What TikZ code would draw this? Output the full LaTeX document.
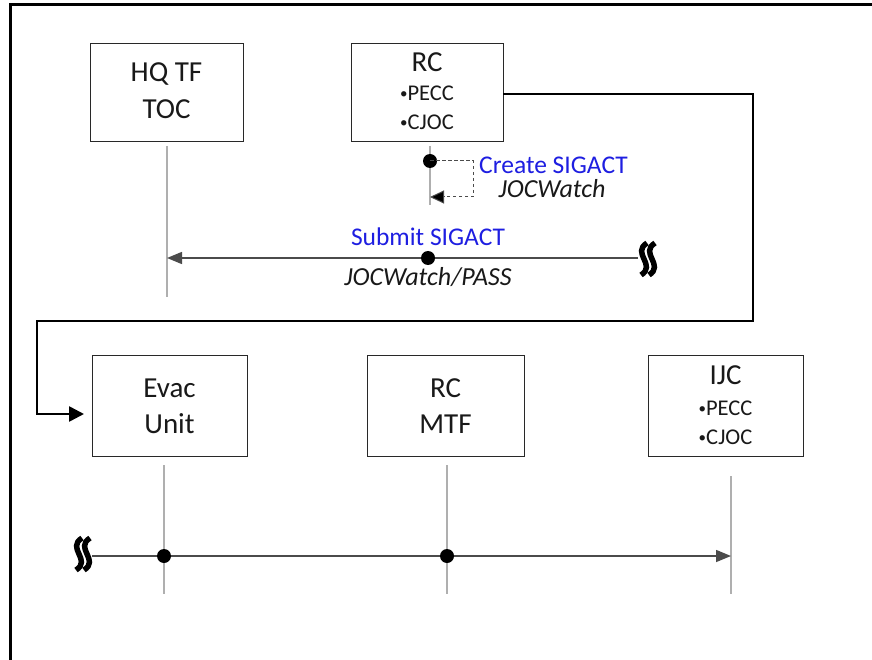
\documentclass[tikz,border=0pt]{standalone}
\usepackage{fontspec}
\setmainfont{Carlito}
\usetikzlibrary{arrows.meta,calc}
\definecolor{msgblue}{RGB}{30,30,225}
\definecolor{boxline}{RGB}{40,40,40}
\definecolor{lifegray}{RGB}{175,175,175}
\definecolor{msggray}{RGB}{75,75,75}
\definecolor{txt}{RGB}{25,25,25}
\newcommand{\smbul}{{\fontsize{15}{15}\selectfont\raisebox{1.5pt}{•}}}
\tikzset{
  box/.style={draw=boxline, line width=0.9pt, fill=white, inner sep=0pt},
  title/.style={text=txt, inner sep=0pt, font=\fontsize{29}{34}\selectfont},
  bul/.style={text=txt, inner sep=0pt, font=\fontsize{22.5}{26}\selectfont},
  blue lbl/.style={text=msgblue, inner sep=0pt, font=\fontsize{25.5}{30}\selectfont},
  ital lbl/.style={text=txt, inner sep=0pt, font=\fontsize{26}{30}\selectfont\itshape},
  life/.style={draw=lifegray, line width=1.3pt},
  msg/.style={draw=msggray, line width=1.5pt},
  msgtip/.style={-{Triangle[length=15pt,width=12pt]}},
  flow/.style={draw=black, line width=2.6pt, -{Triangle[length=15pt,width=15pt]}},
  dashmsg/.style={draw=msggray, line width=1pt, dash pattern=on 3.5pt off 2.5pt, -{Triangle[length=14pt,width=13pt,fill=black]}},
  dot/.style={circle, fill=black, inner sep=0pt, minimum size=14pt},
  squig/.pic={
    \foreach \dx in {-4,4}
      \draw[line width=5.5pt] (\dx+3,-16) .. controls (\dx-13,-6) and (\dx+13,6) .. (\dx-3,16);
  }
}
\begin{document}
\begin{tikzpicture}[x=1pt,y=-1pt]
\useasboundingbox (0,0) rectangle (872,660);
\fill[white] (0,0) rectangle (872,660);
% outer frame (right and bottom run off the page)
\draw[line width=3pt] (10,660) -- (10,5) -- (872,5);

% boxes
\node[box, minimum width=153pt, minimum height=98pt] (hq) at (166.5,92) {};
\node[title] (hqt1) at (166.5,74) {HQ TF};
\node[title] (hqt2) at (166.5,109) {TOC};

\node[box, minimum width=152pt, minimum height=98pt] (rc) at (427,92) {};
\node[title] (rct) at (427,62) {RC};
\node[bul] (rcp) at (427,93) {\smbul PECC};
\node[bul] (rcc) at (427,122) {\smbul CJOC};

\node[box, minimum width=155pt, minimum height=101pt] (evac) at (169.5,405.5) {};
\node[title] (evt1) at (169.5,388) {Evac};
\node[title] (evt2) at (169.5,424) {Unit};

\node[box, minimum width=157pt, minimum height=101pt] (mtf) at (445.5,405.5) {};
\node[title] (mtt1) at (445.5,388) {RC};
\node[title] (mtt2) at (445.5,424) {MTF};

\node[box, minimum width=155pt, minimum height=101pt] (ijc) at (725.5,405.5) {};
\node[title] (ijt) at (725.5,375) {IJC};
\node[bul] (ijp) at (725.5,408) {\smbul PECC};
\node[bul] (ijcc) at (725.5,437) {\smbul CJOC};

% lifelines
\coordinate (hqA) at (167,146);  \coordinate (hqB) at (167,297);
\coordinate (rcA) at (430,146);  \coordinate (rcB) at (430,205);
\coordinate (evA) at (164,465);  \coordinate (evB) at (164,594);
\coordinate (mtA) at (447,465);  \coordinate (mtB) at (447,594);
\coordinate (ijA) at (731,476);  \coordinate (ijB) at (731,594);
\draw[life] (hqA) -- (hqB);
\draw[life] (rcA) -- (rcB);
\draw[life] (evA) -- (evB);
\draw[life] (mtA) -- (mtB);
\draw[life] (ijA) -- (ijB);

% thick flow from RC to Evac Unit
\coordinate (f1) at (753,94);
\coordinate (f2) at (753,321);
\coordinate (f3) at (37,321);
\coordinate (f4) at (37,414);
\coordinate (f5) at (84,414);
\draw[flow] (rc.east |- f1) -- (f1) -- (f2) -- (f3) -- (f4) -- (f5);

% Create SIGACT (self message)
\node[dot] (cd) at (430,161) {};
\coordinate (c1) at (473,161);
\coordinate (c2) at (473,197);
\coordinate (c3) at (430,197);
\draw[dashmsg] (cd.center) -- (c1) -- (c2) -- (c3);
\node[blue lbl, anchor=west] (cl1) at (479,165) {Create SIGACT};
\node[ital lbl] (cl2) at (552,189) {JOCWatch};

% Submit SIGACT
\pic at (648,259) {squig};
\coordinate (sq1) at (638,258);
\coordinate (hqm) at (167,258);
\draw[msg, msgtip] (sq1) -- (hqm);
\node[dot] (sd) at (428,258) {};
\node[blue lbl] (sl1) at (428,237) {Submit SIGACT};
\node[ital lbl] (sl2) at (428,277) {JOCWatch/PASS};

% bottom message
\pic at (83,554) {squig};
\coordinate (sq2) at (92,556);
\coordinate (ijm) at (731,556);
\draw[msg, msgtip] (sq2) -- (ijm);
\node[dot] (bd1) at (164,556) {};
\node[dot] (bd2) at (447,556) {};
\end{tikzpicture}
\end{document}
